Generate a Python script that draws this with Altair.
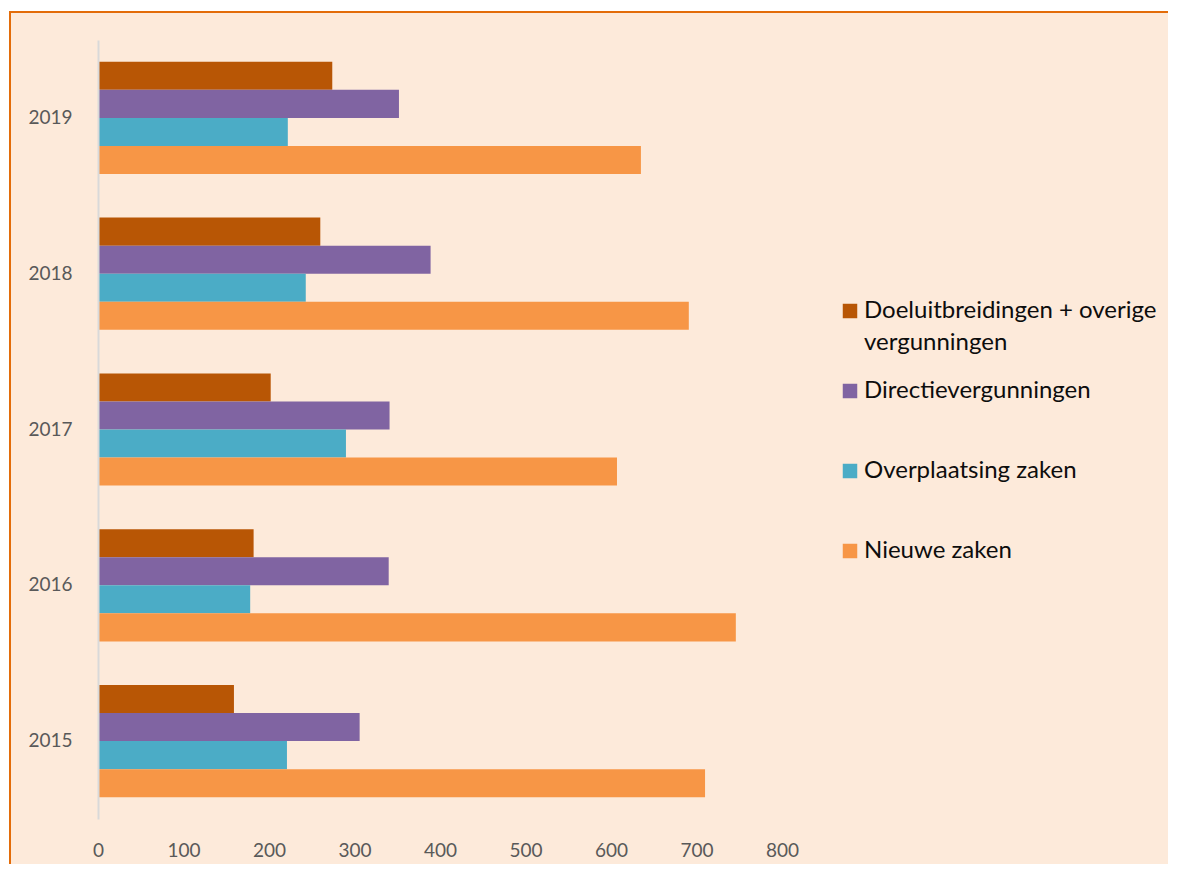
import altair as alt
import pandas as pd

years = ["2015", "2016", "2017", "2018", "2019"]
series = [
    "Doeluitbreidingen + overige vergunningen",
    "Directievergunningen",
    "Overplaatsing zaken",
    "Nieuwe zaken",
]
colors = ["#B85605", "#8064A2", "#4BACC6", "#F79646"]

doel = [159, 182, 202, 260, 274]
directie = [306, 340, 341, 389, 352]
overplaatsing = [221, 178, 290, 243, 222]
nieuw = [710, 746, 607, 691, 635]

rows = []
for vals, s in zip([doel, directie, overplaatsing, nieuw], series):
    for y, v in zip(years, vals):
        rows.append({"jaar": y, "reeks": s, "aantal": v})
df = pd.DataFrame(rows)

FONT = "Lato"

bg = alt.Chart(alt.Data(values=[{"k": 1}])).mark_rect(
    fill="#FDEADA", stroke="#E36C09", strokeWidth=2
).encode(
    x=alt.value(-88), x2=alt.value(1200), y=alt.value(-28), y2=alt.value(900)
)

label_expr = (
    "datum.label == 'Doeluitbreidingen + overige vergunningen' ? "
    "['Doeluitbreidingen + overige', 'vergunningen'] : [datum.label, '']"
)

bars = alt.Chart(df).mark_bar().encode(
    x=alt.X("aantal:Q", scale=alt.Scale(domain=[0, 800]),
            axis=alt.Axis(values=list(range(0, 801, 100)), title=None, grid=False,
                          domain=False, ticks=False, labelPadding=22, zindex=1,
                          labelFlush=False,
                          labelFontSize=19, labelColor="#595959", labelFont=FONT)),
    y=alt.Y("jaar:N", sort=years[::-1],
            scale=alt.Scale(paddingInner=0.28, paddingOuter=0.14),
            axis=alt.Axis(title=None, ticks=False, domainColor="#D9D9D9", domainWidth=2,
                          labelPadding=26, labelFontSize=19, labelColor="#595959",
                          labelFont=FONT, zindex=1)),
    yOffset=alt.YOffset("reeks:N", sort=series),
    color=alt.Color("reeks:N", sort=series,
                    scale=alt.Scale(domain=series, range=colors),
                    legend=alt.Legend(
                        title=None, orient="none", legendX=740, legendY=259, padding=0,
                        symbolType="square", symbolSize=210, symbolStrokeWidth=0,
                        labelFontSize=24, labelFont=FONT, labelColor="#0D0D0D",
                        labelOffset=2, labelLimit=500, rowPadding=24, zindex=1,
                        labelExpr=label_expr,
                    )),
)

chart = alt.layer(bg, bars).properties(
    width=684, height=779,
    padding={"left": 90, "top": 32, "right": 386, "bottom": 45},
    autosize=alt.AutoSizeParams(type="none"),
).configure(
    background="white",
    style={"guide-label": {"lineHeight": 32}},
).configure_view(stroke=None)

chart.save("out.html", embed_options={"renderer": "svg", "actions": False})
